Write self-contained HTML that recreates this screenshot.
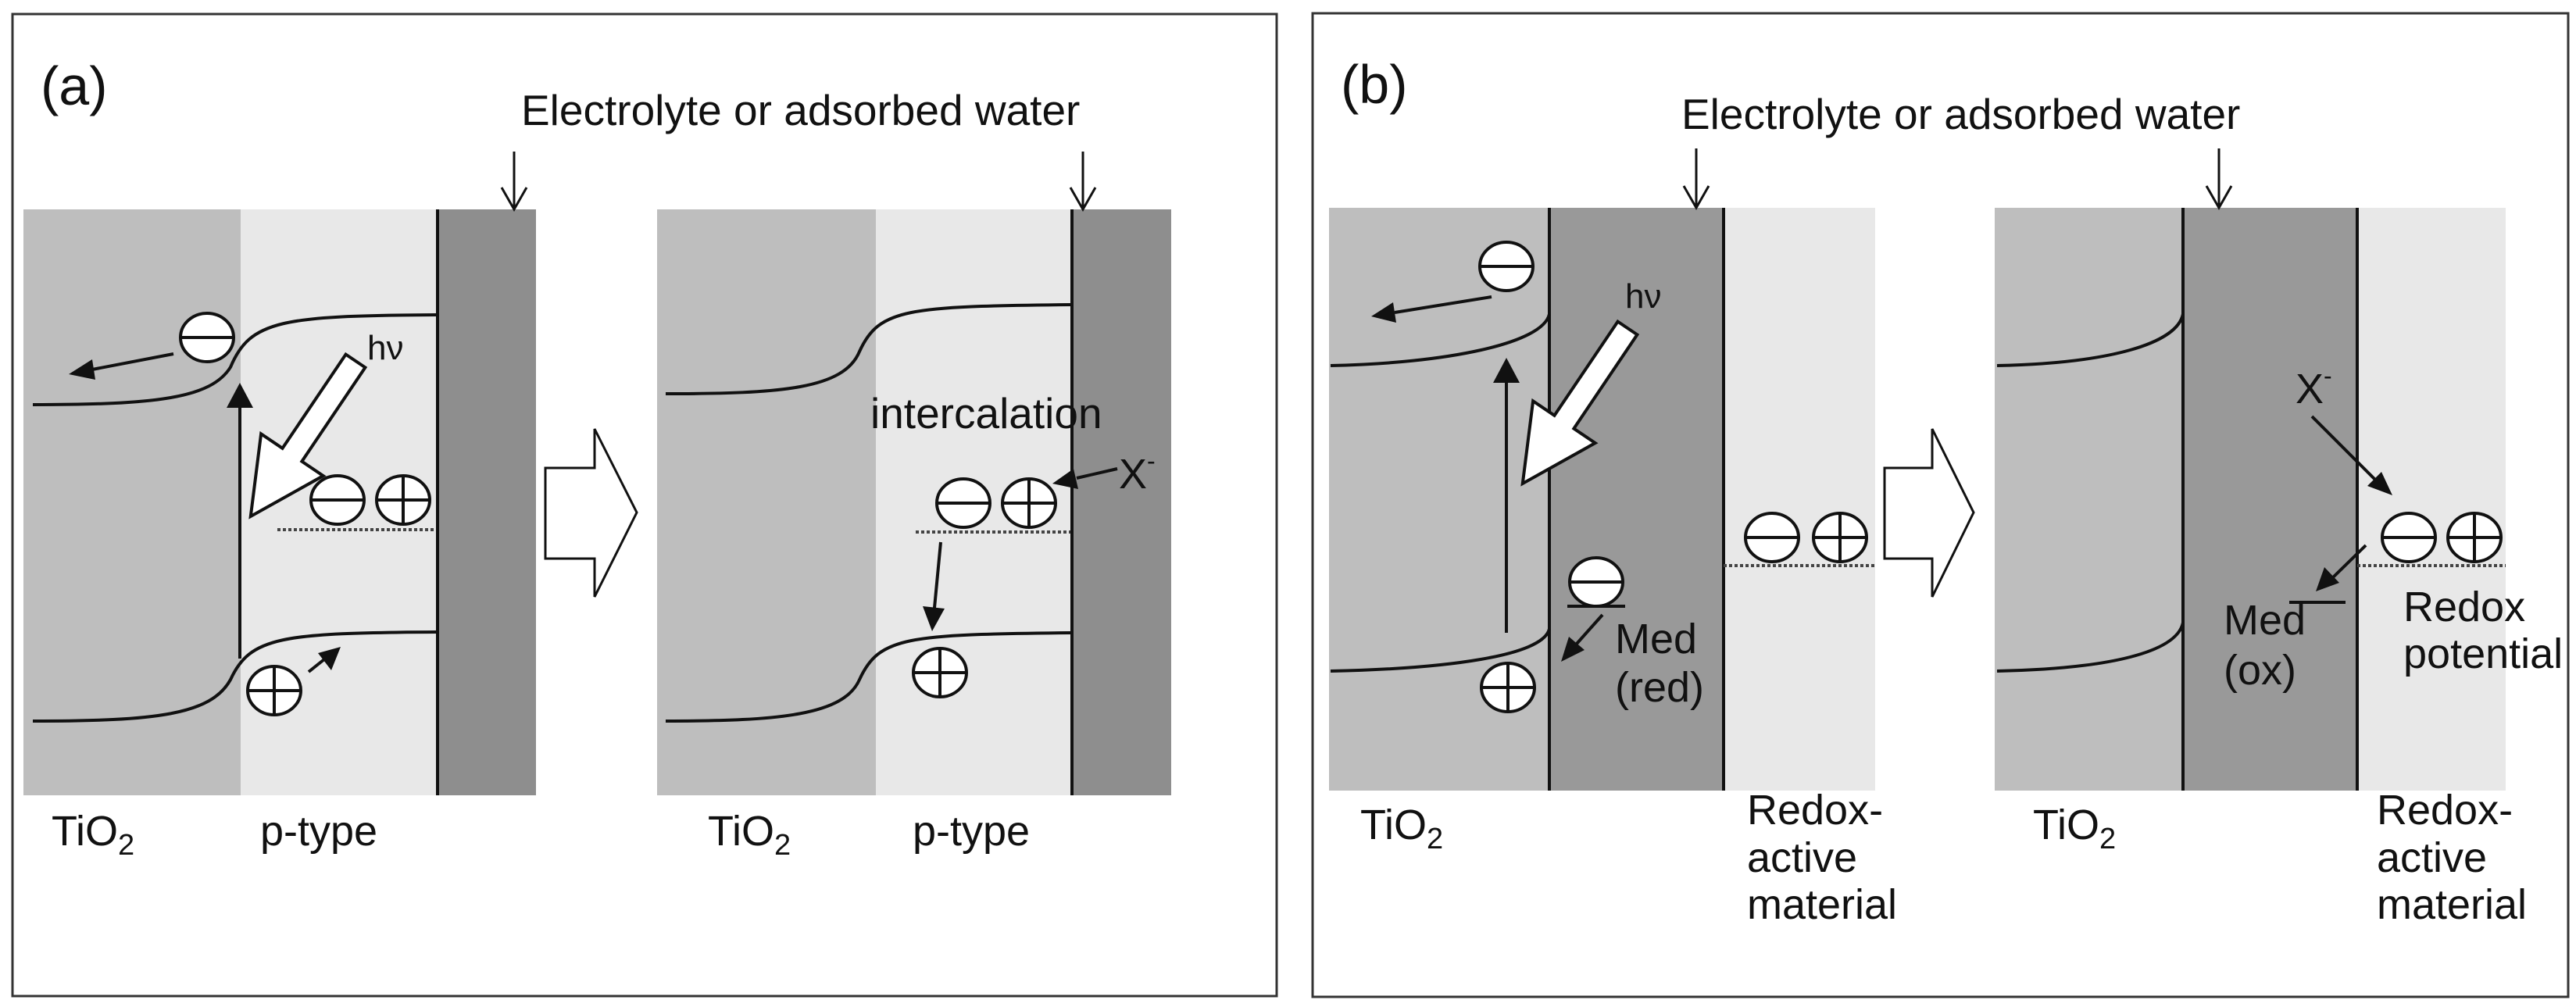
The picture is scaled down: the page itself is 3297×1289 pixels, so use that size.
<!DOCTYPE html>
<html><head><meta charset="utf-8"><style>
html,body{margin:0;padding:0;background:#fff;}
svg{display:block;}
text{font-family:"Liberation Sans",Arial,sans-serif;fill:#111;}
</style></head><body>
<svg width="3297" height="1289" viewBox="0 0 3297 1289" xmlns="http://www.w3.org/2000/svg">
<defs>
<g id="minus"><ellipse cx="0" cy="0" rx="34" ry="31" fill="#fff" stroke="#111" stroke-width="4"/><line x1="-34" y1="0" x2="34" y2="0" stroke="#111" stroke-width="4"/></g>
<g id="plus"><ellipse cx="0" cy="0" rx="34" ry="31" fill="#fff" stroke="#111" stroke-width="4"/><line x1="-34" y1="0" x2="34" y2="0" stroke="#111" stroke-width="4"/><line x1="0" y1="-31" x2="0" y2="31" stroke="#111" stroke-width="4"/></g>
<g id="hv"><polygon points="0,-15 145,-15 145,-48 240,0 145,48 145,15 0,15" fill="#fff" stroke="#111" stroke-width="4"/></g>
</defs>
<rect width="3297" height="1289" fill="#fff"/>
<rect x="16" y="18" width="1618" height="1257" fill="none" stroke="#333" stroke-width="3"/>
<rect x="1680" y="17" width="1607" height="1259" fill="none" stroke="#333" stroke-width="3"/>

<!-- ===== (a) ===== -->
<text x="52" y="134" font-size="70">(a)</text>
<text x="667" y="160" font-size="55">Electrolyte or adsorbed water</text>
<rect x="30" y="268" width="278" height="750" fill="#bebebe"/>
<rect x="308" y="268" width="252" height="750" fill="#e8e8e8"/>
<rect x="560" y="268" width="126" height="750" fill="#8e8e8e"/>
<line x1="560" y1="268" x2="560" y2="1018" stroke="#111" stroke-width="4"/>
<line x1="658" y1="194" x2="658" y2="268" stroke="#111" stroke-width="3"/>
<polyline points="642,240 658,268 674,240" fill="none" stroke="#111" stroke-width="3"/>
<path d="M42,518 C200,518 270,510 295,470 C320,410 360,404 560,403" fill="none" stroke="#111" stroke-width="4"/>
<path d="M42,923 C200,923 270,915 295,870 C320,815 360,810 560,809" fill="none" stroke="#111" stroke-width="4"/>
<line x1="307" y1="843" x2="307" y2="520" stroke="#111" stroke-width="4"/>
<polygon points="307,490 290,522 324,522" fill="#111"/>
<use href="#minus" x="265" y="432"/>
<line x1="222" y1="453" x2="118" y2="473" stroke="#111" stroke-width="4"/>
<polygon points="88,479 118,460 122,486" fill="#111"/>
<use href="#hv" transform="translate(455,462) rotate(124)"/>
<text x="470" y="460" font-size="44">hν</text>
<use href="#minus" x="432" y="640"/>
<use href="#plus" x="516" y="640"/>
<line x1="355" y1="678" x2="555" y2="678" stroke="#444" stroke-width="4" stroke-dasharray="4,3"/>
<use href="#plus" x="351" y="884"/>
<line x1="395" y1="860" x2="420" y2="840" stroke="#111" stroke-width="4"/>
<polygon points="436,828 407,836 424,858" fill="#111"/>
<text x="66" y="1082" font-size="54">TiO<tspan font-size="38" dy="12">2</tspan></text>
<text x="333" y="1082" font-size="54">p-type</text>
<polygon points="698,599 761,599 761,549 815,656 761,764 761,715 698,715" fill="#fff" stroke="#111" stroke-width="3"/>
<rect x="841" y="268" width="280" height="750" fill="#bebebe"/>
<rect x="1121" y="268" width="251" height="750" fill="#e8e8e8"/>
<rect x="1372" y="268" width="127" height="750" fill="#8e8e8e"/>
<line x1="1372" y1="268" x2="1372" y2="1018" stroke="#111" stroke-width="4"/>
<line x1="1386" y1="194" x2="1386" y2="268" stroke="#111" stroke-width="3"/>
<polyline points="1370,240 1386,268 1402,240" fill="none" stroke="#111" stroke-width="3"/>
<path d="M852,504 C1000,504 1080,498 1100,450 C1125,395 1160,392 1372,390" fill="none" stroke="#111" stroke-width="4"/>
<path d="M852,923 C1000,923 1080,915 1100,870 C1125,815 1160,812 1372,810" fill="none" stroke="#111" stroke-width="4"/>
<text x="1114" y="548" font-size="55">intercalation</text>
<text x="1432" y="625" font-size="54">X<tspan font-size="32" dy="-24">-</tspan></text>
<line x1="1430" y1="600" x2="1378" y2="612" stroke="#111" stroke-width="4"/>
<polygon points="1347,619 1374,600 1380,626" fill="#111"/>
<use href="#minus" x="1233" y="644"/>
<use href="#plus" x="1317" y="644"/>
<line x1="1172" y1="681" x2="1370" y2="681" stroke="#444" stroke-width="4" stroke-dasharray="4,3"/>
<line x1="1204" y1="694" x2="1196" y2="778" stroke="#111" stroke-width="4"/>
<polygon points="1193,808 1181,776 1209,779" fill="#111"/>
<use href="#plus" x="1203" y="861"/>
<text x="906" y="1082" font-size="54">TiO<tspan font-size="38" dy="12">2</tspan></text>
<text x="1168" y="1082" font-size="54">p-type</text>

<!-- ===== (b) ===== -->
<text x="1716" y="132" font-size="70">(b)</text>
<text x="2152" y="165" font-size="55">Electrolyte or adsorbed water</text>
<rect x="1701" y="266" width="282" height="746" fill="#bebebe"/>
<rect x="1983" y="266" width="223" height="746" fill="#999"/>
<rect x="2206" y="266" width="194" height="746" fill="#e8e8e8"/>
<line x1="1983" y1="266" x2="1983" y2="1012" stroke="#111" stroke-width="4"/>
<line x1="2206" y1="266" x2="2206" y2="1012" stroke="#111" stroke-width="4"/>
<line x1="2171" y1="190" x2="2171" y2="266" stroke="#111" stroke-width="3"/>
<polyline points="2155,238 2171,266 2187,238" fill="none" stroke="#111" stroke-width="3"/>
<path d="M1703,468 C1850,465 1975,440 1983,402" fill="none" stroke="#111" stroke-width="4"/>
<path d="M1703,859 C1850,856 1975,840 1983,805" fill="none" stroke="#111" stroke-width="4"/>
<use href="#minus" x="1928" y="341"/>
<line x1="1909" y1="380" x2="1785" y2="400" stroke="#111" stroke-width="4"/>
<polygon points="1755,405 1783,387 1787,413" fill="#111"/>
<line x1="1928" y1="810" x2="1928" y2="488" stroke="#111" stroke-width="4"/>
<polygon points="1928,458 1911,490 1945,490" fill="#111"/>
<use href="#hv" transform="translate(2083,420) rotate(124)"/>
<text x="2080" y="394" font-size="44">hν</text>
<use href="#minus" x="2043" y="745"/>
<line x1="2006" y1="776" x2="2080" y2="776" stroke="#111" stroke-width="4"/>
<line x1="2051" y1="787" x2="2018" y2="824" stroke="#111" stroke-width="4"/>
<polygon points="1998,847 2008,815 2028,832" fill="#111"/>
<text x="2067" y="836" font-size="54">Med</text>
<text x="2067" y="898" font-size="54">(red)</text>
<use href="#plus" x="1930" y="880"/>
<use href="#minus" x="2268" y="688"/>
<use href="#plus" x="2355" y="688"/>
<line x1="2206" y1="724" x2="2400" y2="724" stroke="#444" stroke-width="4" stroke-dasharray="4,3"/>
<text x="1741" y="1074" font-size="54">TiO<tspan font-size="38" dy="12">2</tspan></text>
<text x="2236" y="1055" font-size="54">Redox-</text>
<text x="2236" y="1116" font-size="54">active</text>
<text x="2236" y="1176" font-size="54">material</text>
<polygon points="2412,599 2473,599 2473,549 2526,656 2473,764 2473,715 2412,715" fill="#fff" stroke="#111" stroke-width="3"/>
<rect x="2553" y="266" width="241" height="746" fill="#bebebe"/>
<rect x="2794" y="266" width="223" height="746" fill="#999"/>
<rect x="3017" y="266" width="190" height="746" fill="#e8e8e8"/>
<line x1="2794" y1="266" x2="2794" y2="1012" stroke="#111" stroke-width="4"/>
<line x1="3017" y1="266" x2="3017" y2="1012" stroke="#111" stroke-width="4"/>
<line x1="2840" y1="190" x2="2840" y2="266" stroke="#111" stroke-width="3"/>
<polyline points="2824,238 2840,266 2856,238" fill="none" stroke="#111" stroke-width="3"/>
<path d="M2556,468 C2700,465 2786,440 2794,402" fill="none" stroke="#111" stroke-width="4"/>
<path d="M2556,859 C2700,856 2786,835 2794,797" fill="none" stroke="#111" stroke-width="4"/>
<text x="2938" y="516" font-size="54">X<tspan font-size="32" dy="-24">-</tspan></text>
<line x1="2959" y1="533" x2="3040" y2="614" stroke="#111" stroke-width="4"/>
<polygon points="3062,634 3030,622 3048,604" fill="#111"/>
<use href="#minus" x="3083" y="688"/>
<use href="#plus" x="3167" y="688"/>
<line x1="3017" y1="724" x2="3207" y2="724" stroke="#444" stroke-width="4" stroke-dasharray="4,3"/>
<line x1="3028" y1="698" x2="2985" y2="740" stroke="#111" stroke-width="4"/>
<polygon points="2964,757 2975,726 2994,746" fill="#111"/>
<line x1="2930" y1="771" x2="3002" y2="771" stroke="#111" stroke-width="4"/>
<text x="2846" y="812" font-size="54">Med</text>
<text x="2846" y="876" font-size="54">(ox)</text>
<text x="3076" y="795" font-size="54">Redox</text>
<text x="3076" y="855" font-size="54">potential</text>
<text x="2602" y="1074" font-size="54">TiO<tspan font-size="38" dy="12">2</tspan></text>
<text x="3042" y="1055" font-size="54">Redox-</text>
<text x="3042" y="1116" font-size="54">active</text>
<text x="3042" y="1176" font-size="54">material</text>
</svg>
</body></html>
